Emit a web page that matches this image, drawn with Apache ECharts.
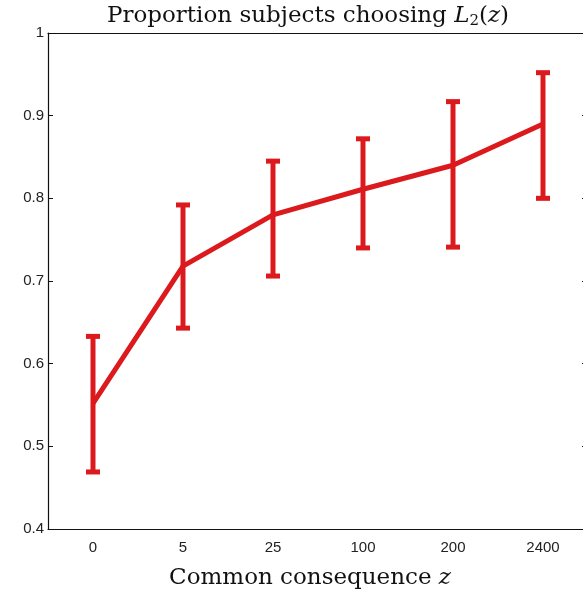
<!DOCTYPE html>
<html>
<head>
<meta charset="utf-8">
<script src="https://cdn.jsdelivr.net/npm/echarts@6/dist/echarts.min.js"></script>
<style>html,body{margin:0;padding:0;background:#fff;overflow:hidden;}#c{width:600px;height:595px;}</style>
</head>
<body>
<div id="c"></div>
<script>
const categories = ['0', '5', '25', '100', '200', '2400'];
const meanValues = [0.552, 0.718, 0.780, 0.811, 0.840, 0.890];
const lowerValues = [0.469, 0.643, 0.706, 0.740, 0.741, 0.800];
const upperValues = [0.633, 0.792, 0.845, 0.872, 0.917, 0.952];
const yTickLabels = {0.4: '0.4', 0.5: '0.5', 0.6: '0.6', 0.7: '0.7', 0.8: '0.8', 0.9: '0.9', 1: '1'};

const RED = '#dc1a1e';
const chart = echarts.init(document.getElementById('c'), null, {renderer: 'canvas'});

const errData = categories.map((c, i) => [i, lowerValues[i], upperValues[i]]);

const tickFont = {fontFamily: 'Liberation Sans, Arial, sans-serif', fontSize: 15, color: '#222'};
const SERIF = 'DejaVu Serif, Liberation Serif, serif';

chart.setOption({
  animation: false,
  backgroundColor: '#fff',
  grid: {left: 48, top: 33, width: 540, height: 496, containLabel: false},
  graphic: [{
    type: 'text',
    x: 308, y: 16,
    style: {
      text: '{n|Proportion subjects choosing }{i|L}{s|2}{n|(}{i|z}{n|)}',
      align: 'center', verticalAlign: 'middle',
      rich: {
        n: {fontFamily: SERIF, fontSize: 23, fill: '#111'},
        i: {fontFamily: SERIF, fontSize: 23, fontStyle: 'italic', fill: '#111'},
        s: {fontFamily: SERIF, fontSize: 15, fill: '#111', padding: [11, 0, 0, 0]}
      }
    }
  }, {
    type: 'text',
    x: 310, y: 578,
    style: {
      text: '{n|Common consequence }{i|z}',
      align: 'center', verticalAlign: 'middle',
      rich: {
        n: {fontFamily: SERIF, fontSize: 23, fill: '#111'},
        i: {fontFamily: SERIF, fontSize: 23, fontStyle: 'italic', fill: '#111'}
      }
    }
  }],
  xAxis: [{
    type: 'category', data: categories, position: 'bottom',
    axisLine: {lineStyle: {color: '#111', width: 1.2}},
    axisTick: {inside: true, alignWithLabel: true, length: 5, lineStyle: {color: '#111'}},
    axisLabel: Object.assign({margin: 11}, tickFont),
    splitLine: {show: false}
  }, {
    type: 'category', data: categories, position: 'top',
    axisLine: {lineStyle: {color: '#111', width: 1.2}},
    axisTick: {inside: true, alignWithLabel: true, length: 5, lineStyle: {color: '#111'}},
    axisLabel: {show: false},
    splitLine: {show: false}
  }],
  yAxis: [{
    type: 'value', min: 0.4, max: 1, interval: 0.1, position: 'left',
    axisLine: {show: true, lineStyle: {color: '#111', width: 1.2}},
    axisTick: {show: true, inside: true, length: 5, lineStyle: {color: '#111'}},
    axisLabel: Object.assign({margin: 4, formatter: v => yTickLabels[Math.round(v * 10) / 10] || ''}, tickFont),
    splitLine: {show: false}
  }, {
    type: 'value', min: 0.4, max: 1, interval: 0.1, position: 'right',
    axisLine: {show: false},
    axisTick: {show: true, inside: true, length: 6, lineStyle: {color: '#111'}},
    axisLabel: {show: false},
    splitLine: {show: false}
  }],
  series: [{
    type: 'line', data: meanValues, xAxisIndex: 0, yAxisIndex: 0,
    symbol: 'none', lineStyle: {color: RED, width: 5}, z: 3
  }, {
    type: 'custom', xAxisIndex: 0, yAxisIndex: 0, data: errData, z: 4,
    renderItem: function (params, api) {
      const x = api.value(0);
      const lo = api.coord([x, api.value(1)]);
      const hi = api.coord([x, api.value(2)]);
      const cw = 7;
      const st = {stroke: RED, lineWidth: 5};
      return {
        type: 'group',
        children: [
          {type: 'line', shape: {x1: lo[0], y1: lo[1], x2: hi[0], y2: hi[1]}, style: st},
          {type: 'line', shape: {x1: lo[0] - cw, y1: lo[1], x2: lo[0] + cw, y2: lo[1]}, style: st},
          {type: 'line', shape: {x1: hi[0] - cw, y1: hi[1], x2: hi[0] + cw, y2: hi[1]}, style: st}
        ]
      };
    }
  }]
});
</script>
</body>
</html>
